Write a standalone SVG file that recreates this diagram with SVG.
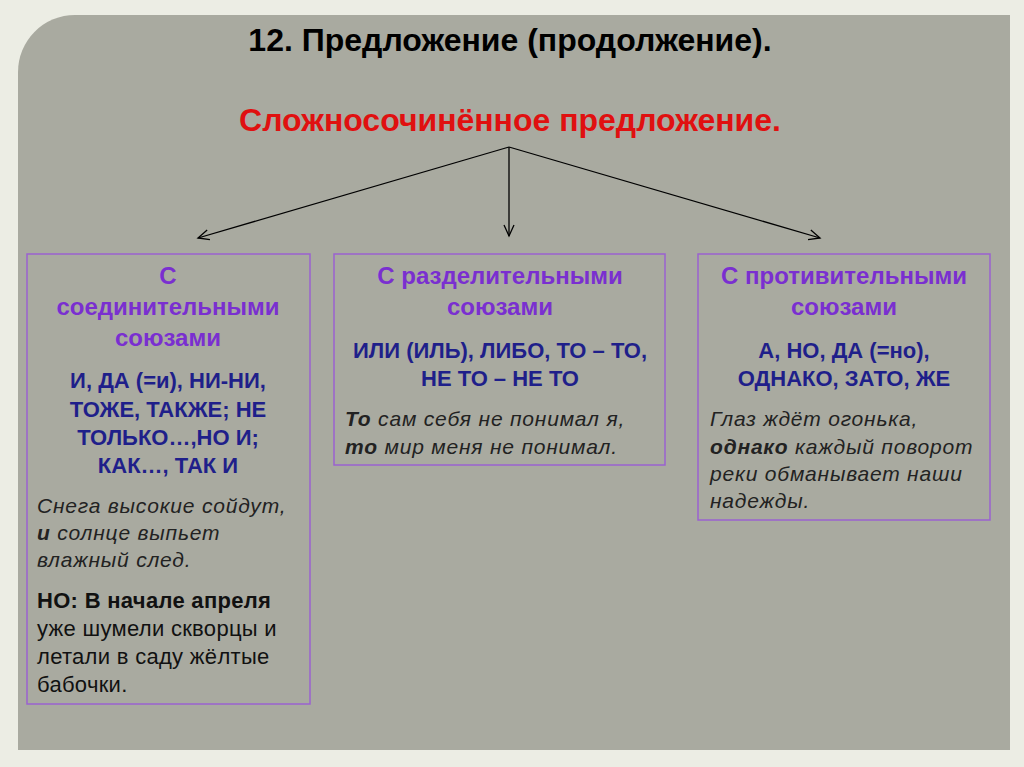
<svg xmlns="http://www.w3.org/2000/svg" width="1024" height="767" viewBox="0 0 1024 767">
<style>
text{font-family:'Liberation Sans',Arial,sans-serif;font-size:21px}
.h{fill:#7a2fd0;text-anchor:middle;font-weight:bold;font-size:24px}
.b{fill:#1f1f8a;font-weight:bold;text-anchor:middle;font-size:22px}
.i{fill:#222;font-style:italic;letter-spacing:0.8px;font-size:21px}
.n{fill:#111;letter-spacing:0.3px;font-size:22px}
.t{font-size:32px;font-weight:bold;text-anchor:middle}
.box{fill:none;stroke:#9a62d0;stroke-width:1.5}
</style>
<defs><marker id="ar" markerWidth="14" markerHeight="12" refX="12" refY="6" orient="auto" markerUnits="userSpaceOnUse"><path d="M1,1 L12,6 L1,11" fill="none" stroke="#000" stroke-width="1.3"/></marker></defs>
<rect width="1024" height="767" fill="#ecede4"/>
<path d="M75,15 H1010 V750 H18 V72 A57,57 0 0 1 75,15 Z" fill="#a9aaa0"/>
<text class="t" x="510" y="51" fill="#000">12. Предложение (продолжение).</text>
<text class="t" x="510" y="131" fill="#e01010">Сложносочинённое предложение.</text>
<g id="connectors" stroke="#000" stroke-width="1.3" fill="none">
<line x1="509" y1="147" x2="198" y2="238" marker-end="url(#ar)"/>
<line x1="509" y1="147" x2="509" y2="236" marker-end="url(#ar)"/>
<line x1="509" y1="147" x2="820" y2="238" marker-end="url(#ar)"/>
</g>
<g id="box1">
<rect class="box" x="27" y="254" width="283" height="450"/>
<text class="h" x="168" y="284">С</text>
<text class="h" x="168" y="315">соединительными</text>
<text class="h" x="168" y="346">союзами</text>
<text class="b" x="168" y="388">И, ДА (=и), НИ-НИ,</text>
<text class="b" x="168" y="417">ТОЖЕ, ТАКЖЕ; НЕ</text>
<text class="b" x="168" y="445">ТОЛЬКО…,НО И;</text>
<text class="b" x="168" y="473">КАК…, ТАК И</text>
<text class="i" x="37" y="513">Снега высокие сойдут,</text>
<text class="i" x="37" y="540"><tspan font-weight="bold">и</tspan> солнце выпьет</text>
<text class="i" x="37" y="567">влажный след.</text>
<text class="n" x="37" y="608" font-weight="bold">НО: В начале апреля</text>
<text class="n" x="37" y="636">уже шумели скворцы и</text>
<text class="n" x="37" y="664">летали в саду жёлтые</text>
<text class="n" x="37" y="692">бабочки.</text>
</g>
<g id="box2">
<rect class="box" x="334" y="254" width="331" height="211"/>
<text class="h" x="500" y="284">С разделительными</text>
<text class="h" x="500" y="315">союзами</text>
<text class="b" x="500" y="358">ИЛИ (ИЛЬ), ЛИБО, ТО – ТО,</text>
<text class="b" x="500" y="386">НЕ ТО – НЕ ТО</text>
<text class="i" x="345" y="426"><tspan font-weight="bold">То</tspan> сам себя не понимал я,</text>
<text class="i" x="345" y="454"><tspan font-weight="bold">то</tspan> мир меня не понимал.</text>
</g>
<g id="box3">
<rect class="box" x="698" y="254" width="292" height="266"/>
<text class="h" x="844" y="284">С противительными</text>
<text class="h" x="844" y="315">союзами</text>
<text class="b" x="844" y="358">А, НО, ДА (=но),</text>
<text class="b" x="844" y="386">ОДНАКО, ЗАТО, ЖЕ</text>
<text class="i" x="710" y="426">Глаз ждёт огонька,</text>
<text class="i" x="710" y="454"><tspan font-weight="bold">однако</tspan> каждый поворот</text>
<text class="i" x="710" y="481">реки обманывает наши</text>
<text class="i" x="710" y="508">надежды.</text>
</g>
</svg>
